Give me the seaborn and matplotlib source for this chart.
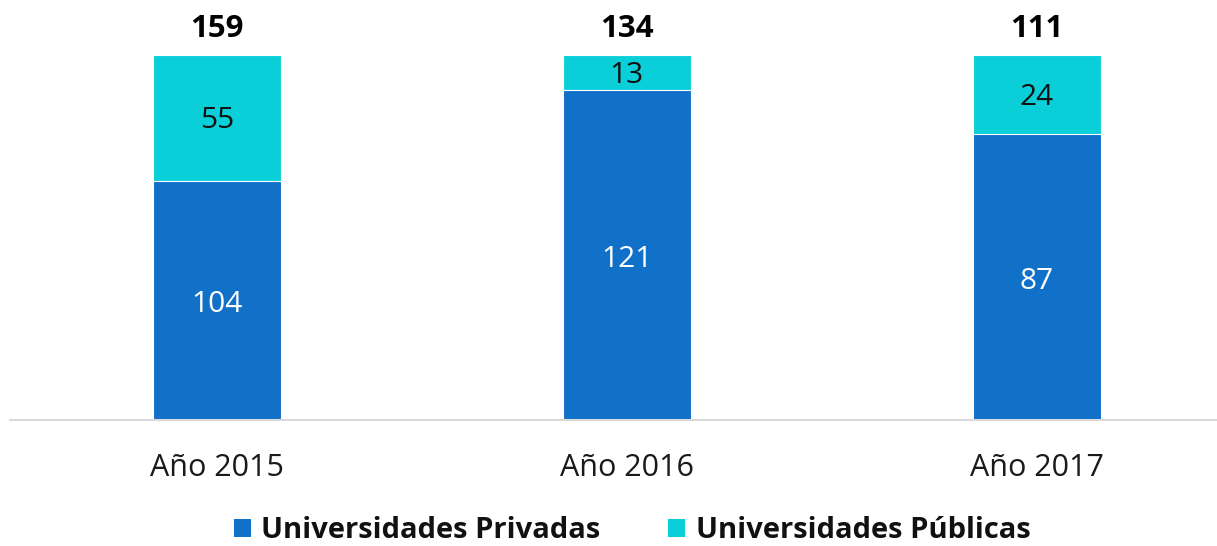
import matplotlib
matplotlib.use("Agg")
import matplotlib.pyplot as plt
from matplotlib.patches import Patch
import seaborn as sns
import pandas as pd

categories = ["Año 2015", "Año 2016", "Año 2017"]
privadas = [104, 121, 87]
publicas = [55, 13, 24]
totales = [159, 134, 111]
series_names = ["Universidades Privadas", "Universidades Públicas"]

c_priv = "#1170C8"
c_pub = "#0BCFD8"

sns.set_theme(style="white")
plt.rcParams["font.family"] = ["Open Sans", "DejaVu Sans"]

df = pd.DataFrame({
    "cat": categories,
    "priv": privadas,
    "pub": publicas,
    "tot": totales,
})
df["priv_share"] = df["priv"] / df["tot"]
df["full"] = (df["priv"] + df["pub"]) / df["tot"]

W, H = 1217, 546
fig = plt.figure(figsize=(W / 100, H / 100), dpi=100)
ax = fig.add_axes([10 / W, (H - 420) / H, 1207 / W, 365 / H])

sns.barplot(data=df, x="cat", y="full", color=c_pub, saturation=1, width=0.312,
            edgecolor="white", linewidth=0.8, ax=ax)
sns.barplot(data=df, x="cat", y="priv_share", color=c_priv, saturation=1, width=0.312,
            edgecolor="white", linewidth=0.8, ax=ax)

ax.set_xlim(-0.505, 2.44)
ax.set_ylim(0, 1)
ax.set_xlabel("")
ax.set_ylabel("")
ax.set_yticks([])
for s in ["top", "right", "left"]:
    ax.spines[s].set_visible(False)
ax.spines["bottom"].set_color("#D9D9D9")
ax.spines["bottom"].set_linewidth(1.5)
ax.tick_params(axis="x", length=0, pad=24, labelsize=22, labelcolor="#1a1a1a")

fs = 21.5
for i, row in df.iterrows():
    ax.annotate(str(row["priv"]), (i, row["priv_share"] / 2), xytext=(0, -3),
                textcoords="offset points", ha="center", va="center",
                color="white", fontsize=fs)
    ax.annotate(str(row["pub"]), (i, row["priv_share"] + (row["full"] - row["priv_share"]) / 2),
                xytext=(0, -2), textcoords="offset points",
                ha="center", va="center", color="#111111", fontsize=fs)
    ax.annotate(str(row["tot"]), (i, row["full"]), xytext=(0, 19), textcoords="offset points",
                ha="center", va="center", fontsize=22.5, fontweight="bold", color="black",
                annotation_clip=False)

handles = [Patch(facecolor=c_priv, edgecolor="none"), Patch(facecolor=c_pub, edgecolor="none")]
leg = fig.legend(handles, series_names, loc="center", bbox_to_anchor=(632 / W, 1 - 531 / H),
                 ncol=2, frameon=False, handlelength=0.6, handleheight=0.6,
                 handletextpad=0.35, columnspacing=2.3,
                 prop={"size": 21, "weight": "bold"})
for t in leg.get_texts():
    t.set_color("#111111")

fig.savefig("out.png", dpi=100)
